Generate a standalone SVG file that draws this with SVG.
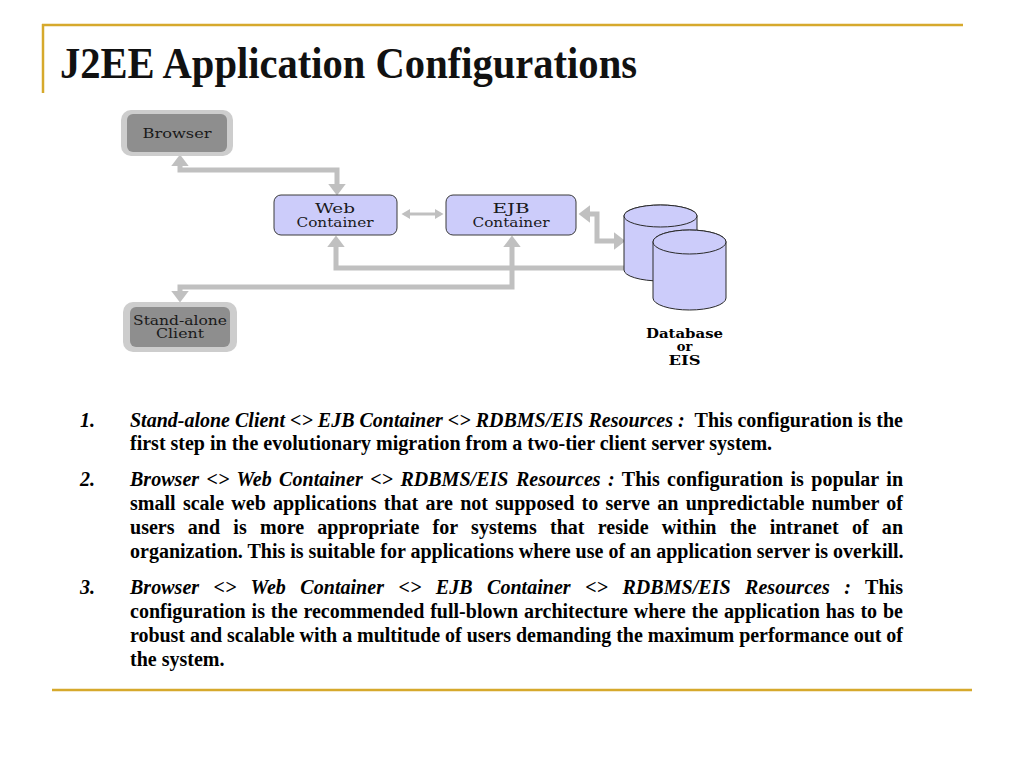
<svg xmlns="http://www.w3.org/2000/svg" width="1024" height="768" viewBox="0 0 1024 768">
<style>
.rule{stroke:#D6A92C;stroke-width:2.5;fill:none}
.title{font-family:"Liberation Serif","Times New Roman",serif;font-size:44px;font-weight:bold;fill:#111}
.t{font-family:"Liberation Serif","Times New Roman",serif;font-size:20px;font-weight:bold;fill:#000}
.i{font-style:italic}
.lbl{font-family:"DejaVu Serif","Liberation Serif",serif;font-size:13px;fill:#1a1a1a;text-anchor:middle}
.dbl{font-family:"DejaVu Serif","Liberation Serif",serif;font-size:13px;font-weight:bold;fill:#000;text-anchor:middle}
.outer{fill:#cdcdcd}
.inner{fill:#8e8e8e}
.box{fill:#ccccfa;stroke:#3a3a3a;stroke-width:1}
.cyl{fill:#ccccfa;stroke:#2a2a2a;stroke-width:1}
.con{fill:none;stroke:#c0c0c0;stroke-width:5;stroke-linejoin:miter}
.conthin{fill:none;stroke:#c0c0c0;stroke-width:3}
</style>
<defs>
<marker id="ah" markerUnits="userSpaceOnUse" markerWidth="12" markerHeight="18" refX="0" refY="8" orient="auto-start-reverse" viewBox="0 0 11 16">
<path d="M0,0 L10.5,8 L0,16 z" fill="#c0c0c0"/>
</marker>
<marker id="ahs" markerUnits="userSpaceOnUse" markerWidth="9" markerHeight="11" refX="0" refY="5" orient="auto-start-reverse" viewBox="0 0 9 10">
<path d="M0,0 L8.5,5 L0,10 z" fill="#c0c0c0"/>
</marker>
</defs>
<rect width="1024" height="768" fill="#ffffff"/>
<g id="frame">
<line class="rule" x1="42" y1="25" x2="963" y2="25"/>
<line class="rule" x1="43" y1="24" x2="43" y2="93"/>
<line class="rule" x1="52" y1="690" x2="972" y2="690"/>
</g>
<text class="title" x="60" y="78" textLength="577" lengthAdjust="spacingAndGlyphs">J2EE Application Configurations</text>
<g id="connectors">
<path class="con" d="M180,166 V170 H337 V184" marker-start="url(#ah)" marker-end="url(#ah)"/>
<path class="conthin" d="M410,214 H435" marker-start="url(#ahs)" marker-end="url(#ahs)"/>
<path class="con" d="M590,214 H597 V241 H614" marker-start="url(#ah)" marker-end="url(#ah)"/>
<path class="con" d="M336,247 V268 H642" marker-start="url(#ah)" marker-end="url(#ah)"/>
<path class="con" d="M512,247 V287 H180 V291" marker-start="url(#ah)" marker-end="url(#ah)"/>
</g>
<g id="browser">
<rect class="outer" x="121" y="110" width="112" height="46" rx="10"/>
<rect class="inner" x="127" y="114" width="100" height="38" rx="6"/>
<text class="lbl" x="177" y="138" textLength="69" lengthAdjust="spacingAndGlyphs">Browser</text>
</g>
<g id="web-container">
<rect class="box" x="274" y="195" width="123" height="40" rx="7"/>
<text class="lbl" x="335" y="213" textLength="40" lengthAdjust="spacingAndGlyphs">Web</text>
<text class="lbl" x="335" y="227" textLength="77" lengthAdjust="spacingAndGlyphs">Container</text>
</g>
<g id="ejb-container">
<rect class="box" x="446" y="195" width="130" height="40" rx="7"/>
<text class="lbl" x="511" y="213" textLength="37" lengthAdjust="spacingAndGlyphs">EJB</text>
<text class="lbl" x="511" y="227" textLength="77" lengthAdjust="spacingAndGlyphs">Container</text>
</g>
<g id="standalone-client">
<rect class="outer" x="123" y="302" width="114" height="50" rx="10"/>
<rect class="inner" x="130" y="307" width="100" height="40" rx="6"/>
<text class="lbl" x="180" y="325" textLength="94" lengthAdjust="spacingAndGlyphs">Stand-alone</text>
<text class="lbl" x="180" y="338" textLength="48" lengthAdjust="spacingAndGlyphs">Client</text>
</g>
<g id="database">
<path class="cyl" d="M624,216 V270 A36.5,11 0 0 0 697,270 V216 A36.5,11 0 0 0 624,216 z"/>
<ellipse class="cyl" cx="660.5" cy="216" rx="36.5" ry="11"/>
<path class="cyl" d="M653,242 V298 A36.5,12 0 0 0 726,298 V242 A36.5,12 0 0 0 653,242 z"/>
<ellipse class="cyl" cx="689.5" cy="242" rx="36.5" ry="12"/>
<text class="dbl" x="684.5" y="338" textLength="77" lengthAdjust="spacingAndGlyphs">Database</text>
<text class="dbl" x="684.5" y="351">or</text>
<text class="dbl" x="684.5" y="365" textLength="32" lengthAdjust="spacingAndGlyphs">EIS</text>
</g>
<g id="list">
<text class="t i" x="80" y="427">1.</text>
<text class="t" x="130" y="427" textLength="773" lengthAdjust="spacing"><tspan class="i">Stand-alone Client &lt;&gt; EJB Container &lt;&gt; RDBMS/EIS Resources :</tspan> &#160;This configuration is the</text>
<text class="t" x="130" y="450">first step in the evolutionary migration from a two-tier client server system.</text>
<text class="t i" x="80" y="486">2.</text>
<text class="t" x="130" y="486" word-spacing="2.37" textLength="773" lengthAdjust="spacing"><tspan class="i">Browser &lt;&gt; Web Container &lt;&gt; RDBMS/EIS Resources :</tspan> This configuration is popular in</text>
<text class="t" x="130" y="510" word-spacing="2.24" textLength="773" lengthAdjust="spacing">small scale web applications that are not supposed to serve an unpredictable number of</text>
<text class="t" x="130" y="534" word-spacing="8.23" textLength="773" lengthAdjust="spacing">users and is more appropriate for systems that reside within the intranet of an</text>
<text class="t" x="130" y="558">organization. This is suitable for applications where use of an application server is overkill.</text>
<text class="t i" x="80" y="594">3.</text>
<text class="t" x="130" y="594" word-spacing="9.45" textLength="773" lengthAdjust="spacing"><tspan class="i">Browser &lt;&gt; Web Container &lt;&gt; EJB Container &lt;&gt; RDBMS/EIS Resources :</tspan> This</text>
<text class="t" x="130" y="618" word-spacing="0.83" textLength="773" lengthAdjust="spacing">configuration is the recommended full-blown architecture where the application has to be</text>
<text class="t" x="130" y="642" textLength="773" lengthAdjust="spacing">robust and scalable with a multitude of users demanding the maximum performance out of</text>
<text class="t" x="130" y="666">the system.</text>
</g>
</svg>
